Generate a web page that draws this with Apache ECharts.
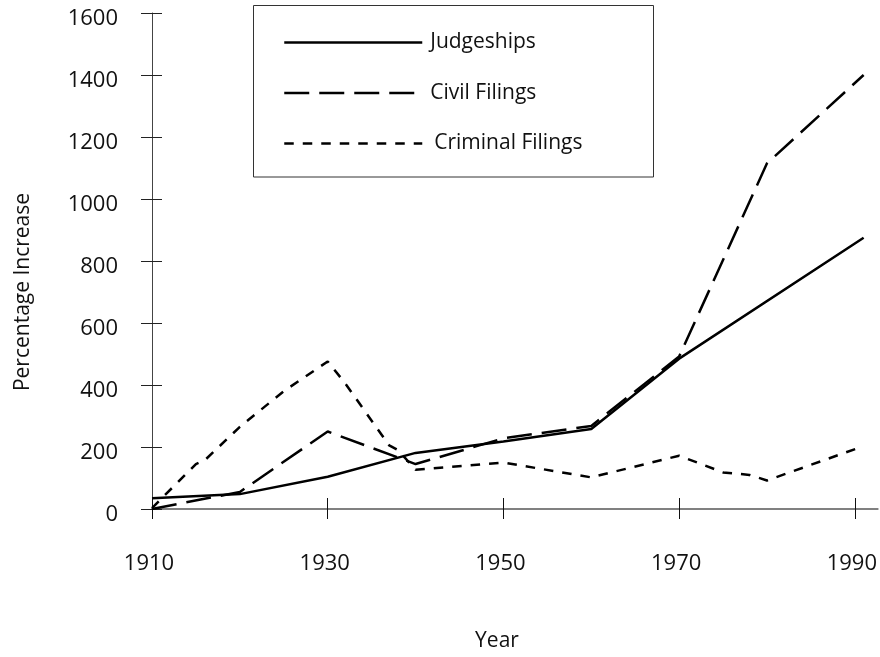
<!DOCTYPE html>
<html><head><meta charset="utf-8">
<script src="https://cdn.jsdelivr.net/npm/echarts@6/dist/echarts.min.js"></script>
<style>html,body{margin:0;padding:0;background:#fff}#chart{width:880px;height:657px}</style>
</head><body><div id="chart"></div>
<script>
const seriesNames = ['Judgeships', 'Civil Filings', 'Criminal Filings'];
const judgeshipYears = [1910, 1920, 1930, 1940, 1950, 1960, 1970, 1991];
const judgeshipValues = [35, 48, 104, 181, 218, 258, 485, 875];
const civilYears = [1910, 1920, 1930, 1940, 1950, 1960, 1970, 1980, 1991];
const civilValues = [0, 55, 250, 145, 228, 268, 492, 1115, 1400];
const criminalYears = [1910, 1915, 1916, 1920, 1925, 1930, 1932, 1937, 1938, 1940, 1950, 1960, 1970, 1975, 1978, 1980, 1991];
const criminalValues = [3, 145, 157, 265, 380, 476, 405, 205, 190, 127, 150, 102, 172, 118, 110, 92, 203];
const xTickLabels = [1910, 1930, 1950, 1970, 1990];
const yTickLabels = [0, 200, 400, 600, 800, 1000, 1200, 1400, 1600];
const xTitle = 'Year';
const yTitle = 'Percentage Increase';

const FONT = 'Open Sans';
const zip = (xs, ys) => xs.map((x, i) => [x, ys[i]]);
const dashes = { solid: 'solid', civil: [25, 10], criminal: [9.5, 9] };
const lineTypes = [dashes.solid, dashes.civil, dashes.criminal];
const lineData = [zip(judgeshipYears, judgeshipValues), zip(civilYears, civilValues), zip(criminalYears, criminalValues)];

const xMin = 1910, xMax = 1992.6;
const yMin = yTickLabels[0], yMax = yTickLabels[yTickLabels.length - 1];
const plain = v => String(v);

const chart = echarts.init(document.getElementById('chart'), null, { renderer: 'canvas' });
chart.setOption({
  animation: false,
  backgroundColor: '#fff',
  grid: { left: 152, top: 13, width: 726, height: 496, containLabel: false },
  xAxis: [
    {
      type: 'value', min: xMin, max: xMax, position: 'bottom',
      axisLine: { show: true, onZero: false, lineStyle: { color: '#808080', width: 2 } },
      axisTick: { show: true, inside: false, length: 10, customValues: xTickLabels, lineStyle: { color: '#111', width: 1 } },
      axisLabel: { customValues: xTickLabels, formatter: plain, margin: 44, fontSize: 22, fontFamily: FONT, color: '#111', padding: [0, 6, 0, 0] },
      splitLine: { show: false }
    },
    {
      type: 'value', min: xMin, max: xMax, position: 'bottom',
      axisLine: { show: false },
      axisTick: { show: true, inside: true, length: 11, customValues: xTickLabels, lineStyle: { color: '#111', width: 1 } },
      axisLabel: { show: false },
      splitLine: { show: false }
    }
  ],
  yAxis: [
    {
      type: 'value', min: yMin, max: yMax, interval: 200, position: 'left',
      axisLine: { show: true, onZero: false, lineStyle: { color: '#444', width: 1 } },
      axisTick: { show: true, inside: false, length: 11, lineStyle: { color: '#222', width: 1 } },
      axisLabel: { formatter: plain, margin: 34, fontSize: 22, fontFamily: FONT, color: '#111', verticalAlign: 'top', lineHeight: 12 },
      splitLine: { show: false }
    },
    {
      type: 'value', min: yMin, max: yMax, interval: 200, position: 'left',
      axisLine: { show: false },
      axisTick: { show: true, inside: true, length: 10, lineStyle: { color: '#222', width: 1 } },
      axisLabel: { show: false },
      splitLine: { show: false }
    }
  ],
  legend: {
    orient: 'vertical', left: 278, top: 27, padding: 5,
    itemWidth: 138, itemHeight: 20, itemGap: 29.5,
    itemStyle: { opacity: 0 },
    textStyle: { fontSize: 21, fontFamily: FONT, color: '#111', padding: [0, 0, 0, 3] },
    data: seriesNames.map((n, i) => ({
      name: n,
      lineStyle: { color: '#000', width: 2.5, type: lineTypes[i] },
      textStyle: i === 2 ? { padding: [0, 0, 0, 7] } : undefined
    }))
  },
  graphic: [
    { type: 'rect', shape: { x: 253.5, y: 5.5, width: 400, height: 171.5 }, style: { fill: 'none', stroke: '#333', lineWidth: 1 }, z: 0, silent: true },
    { type: 'text', x: 23, y: 292, rotation: Math.PI / 2, style: { text: yTitle, fontSize: 21, fontFamily: FONT, fill: '#111', align: 'center', verticalAlign: 'middle' }, silent: true },
    { type: 'text', x: 497, y: 641, style: { text: xTitle, fontSize: 21, fontFamily: FONT, fill: '#111', align: 'center', verticalAlign: 'middle' }, silent: true }
  ],
  series: seriesNames.map((n, i) => ({
    type: 'line', name: n, xAxisIndex: 0, yAxisIndex: 0,
    data: lineData[i], symbol: 'none', silent: true,
    lineStyle: { color: '#000', width: 2.5, type: lineTypes[i] },
    itemStyle: { color: '#000' },
    z: 3 - i
  }))
});
</script></body></html>
